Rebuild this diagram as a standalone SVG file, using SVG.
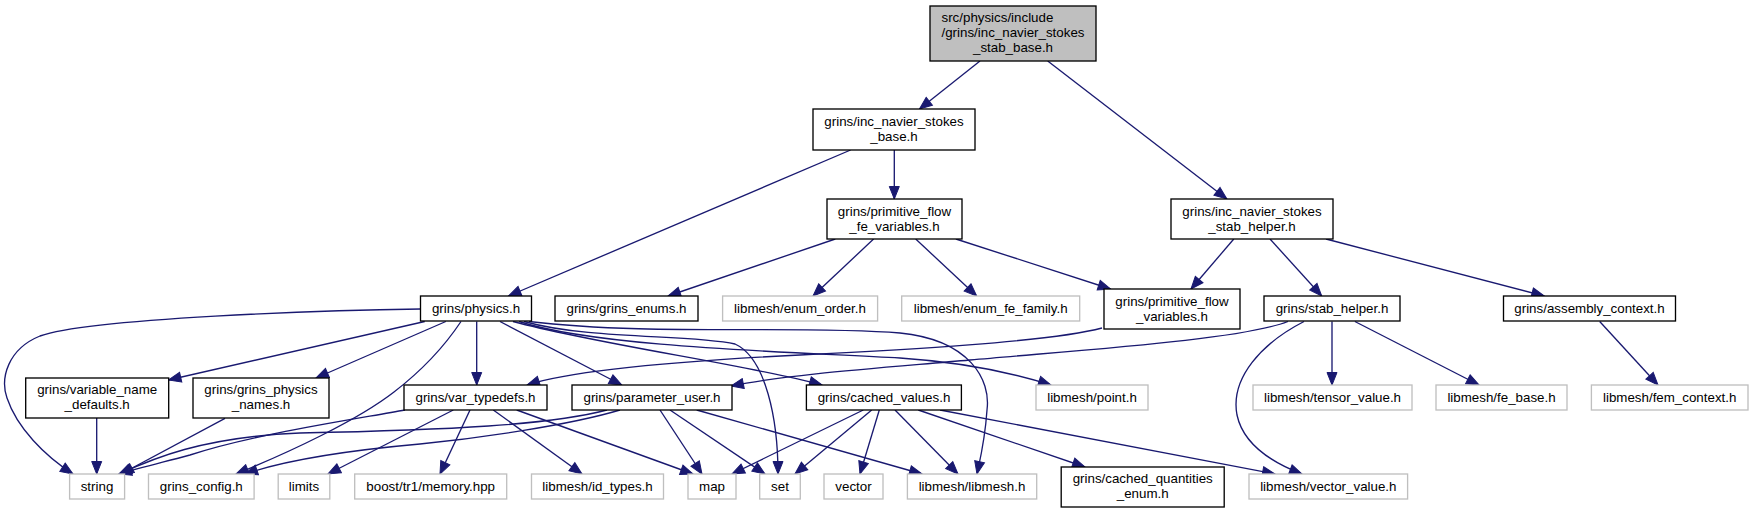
<svg xmlns="http://www.w3.org/2000/svg" width="1753" height="513" viewBox="0 0 1753 513">
<style>
text{font-family:"Liberation Sans",Arial,sans-serif;font-size:13.33px;fill:#000;text-anchor:middle}
text.l{text-anchor:start}
.n rect{fill:#fff;stroke:#000;stroke-width:1.33}
.x rect{fill:#fff;stroke:#bfbfbf;stroke-width:1.33}
.root rect{fill:#bfbfbf;stroke:#000;stroke-width:1.33}
#edges path{fill:none;stroke:#191970;stroke-width:1.33;marker-end:url(#arr)}
</style>
<defs>
<marker id="arr" markerUnits="userSpaceOnUse" markerWidth="15" markerHeight="12" refX="12.5" refY="5" orient="auto" viewBox="-1 -1 15 12">
<path d="M0,0 L12.5,5 L0,10 z" fill="#191970" stroke="#191970" stroke-width="1"/>
</marker>
</defs>
<rect width="1753" height="513" fill="#fff"/>
<g id="edges">
<path d="M980,61 L919.5,109"/>
<path d="M1047.7,61 L1226.9,199"/>
<path d="M850.6,150 L508.5,296"/>
<path d="M894.3,150 L894.3,199"/>
<path d="M835.3,239 L668,296"/>
<path d="M873.6,239 L813,296"/>
<path d="M915.7,239 L976.7,296"/>
<path d="M955.9,239 L1110.6,289"/>
<path d="M1233.8,239 L1191,289"/>
<path d="M1270,239 L1321.7,296"/>
<path d="M1326,239 L1544.2,296"/>
<path d="M1599.7,321.5 L1658,385"/>
<path d="M1332,321.5 L1332,385"/>
<path d="M1354.9,321.5 L1479,385"/>
<path d="M1304,321.5 C1262,343 1230,378 1237,415 C1243,443 1268,461 1302,474"/>
<path d="M1288,321.5 C1240,340 1080,350 970,360 C880,368 790,374 731,386"/>
<path d="M1102,328 C1050,342 900,350 800,355 C700,360 580,368 527,385"/>
<path d="M420.5,309 C330,310 90,318 40,336 C8,349 0,378 7,398 C17,428 45,456 73,474"/>
<path d="M424.7,321.5 L168.5,380"/>
<path d="M445.8,321.5 L316,378"/>
<path d="M461,321.5 C442,350 420,372 394,392 C358,420 290,452 236,474"/>
<path d="M476.7,321.5 L476.7,385"/>
<path d="M500,321.5 L621.7,385"/>
<path d="M513,321.5 C600,345 750,365 822,385"/>
<path d="M519,321.5 C600,348 800,352 900,358 C960,362 1010,372 1051,385"/>
<path d="M524,321.5 C590,340 690,334 735,344 C766,358 778,420 778,474"/>
<path d="M529,321.5 C650,336 800,325 900,333 C970,340 991,380 987,410 C985,440 980,460 977,474"/>
<path d="M96.7,418 L96.7,474"/>
<path d="M225,418.3 L121,474"/>
<path d="M405,410 C350,420 250,435 190,455 C160,463 140,468 119,474"/>
<path d="M607,410 C550,425 450,430 300,433 C200,437 150,460 119,474"/>
<path d="M620,410 C570,425 480,438 420,444 C330,452 280,462 245,474"/>
<path d="M453.3,410 L328,474"/>
<path d="M470,410 L440,474"/>
<path d="M493.3,410 L582,474"/>
<path d="M516.7,410 L693,474"/>
<path d="M660,410 L702,474"/>
<path d="M670,410 L765,474"/>
<path d="M696.7,410 L922,474"/>
<path d="M863.3,410 L732,474"/>
<path d="M871.7,410 L795,474"/>
<path d="M879.3,410 L860,474"/>
<path d="M895,410 L958,474"/>
<path d="M918.3,410 L1085,467"/>
<path d="M940,410 L1275,474"/>
</g>
<g id="n_root" class="root"><rect x="930" y="6" width="166" height="55"/><text class="l" x="941.5" y="22">src/physics/include</text><text class="l" x="941.5" y="37">/grins/inc_navier_stokes</text><text x="1013" y="52">_stab_base.h</text></g>
<g id="n_base" class="n"><rect x="813" y="109" width="162" height="41"/><text x="894" y="126">grins/inc_navier_stokes</text><text x="894" y="141">_base.h</text></g>
<g id="n_primfe" class="n"><rect x="827" y="199" width="135" height="40"/><text x="894.5" y="215.5">grins/primitive_flow</text><text x="894.5" y="230.5">_fe_variables.h</text></g>
<g id="n_stabinc" class="n"><rect x="1171" y="199" width="162" height="40"/><text x="1252" y="215.5">grins/inc_navier_stokes</text><text x="1252" y="230.5">_stab_helper.h</text></g>
<g id="n_physics" class="n"><rect x="420.5" y="296" width="111" height="25"/><text x="476" y="313">grins/physics.h</text></g>
<g id="n_enums" class="n"><rect x="555" y="296" width="143" height="25"/><text x="626.5" y="313">grins/grins_enums.h</text></g>
<g id="n_enumorder" class="x"><rect x="722.6" y="296" width="155" height="25"/><text x="800" y="313">libmesh/enum_order.h</text></g>
<g id="n_enumfe" class="x"><rect x="901.7" y="296" width="178" height="25"/><text x="990.7" y="313">libmesh/enum_fe_family.h</text></g>
<g id="n_primvars" class="n"><rect x="1104" y="289" width="136" height="40"/><text x="1172" y="305.5">grins/primitive_flow</text><text x="1172" y="320.5">_variables.h</text></g>
<g id="n_stabhelper" class="n"><rect x="1264" y="296" width="136" height="25"/><text x="1332" y="313">grins/stab_helper.h</text></g>
<g id="n_assembly" class="n"><rect x="1503.5" y="296" width="172" height="25"/><text x="1589.5" y="313">grins/assembly_context.h</text></g>
<g id="n_varname" class="n"><rect x="25.7" y="378" width="143" height="40"/><text x="97.2" y="394">grins/variable_name</text><text x="97.2" y="409">_defaults.h</text></g>
<g id="n_physnames" class="n"><rect x="193" y="378" width="136" height="40"/><text x="261" y="394">grins/grins_physics</text><text x="261" y="409">_names.h</text></g>
<g id="n_vartypedefs" class="n"><rect x="404" y="385" width="143" height="25"/><text x="475.5" y="402">grins/var_typedefs.h</text></g>
<g id="n_paramuser" class="n"><rect x="572" y="385" width="160" height="25"/><text x="652" y="402">grins/parameter_user.h</text></g>
<g id="n_cached" class="n"><rect x="806.4" y="385" width="155" height="25"/><text x="884" y="402">grins/cached_values.h</text></g>
<g id="n_point" class="x"><rect x="1036" y="385" width="112" height="25"/><text x="1092" y="402">libmesh/point.h</text></g>
<g id="n_tensor" class="x"><rect x="1253" y="385" width="159" height="25"/><text x="1332.5" y="402">libmesh/tensor_value.h</text></g>
<g id="n_febase" class="x"><rect x="1436" y="385" width="131" height="25"/><text x="1501.5" y="402">libmesh/fe_base.h</text></g>
<g id="n_femctx" class="x"><rect x="1591.4" y="385" width="156.6" height="25"/><text x="1669.7" y="402">libmesh/fem_context.h</text></g>
<g id="n_string" class="x"><rect x="69.6" y="474" width="55" height="25"/><text x="97" y="491">string</text></g>
<g id="n_config" class="x"><rect x="148.5" y="474" width="105.6" height="25"/><text x="201.3" y="491">grins_config.h</text></g>
<g id="n_limits" class="x"><rect x="278.2" y="474" width="51.6" height="25"/><text x="304" y="491">limits</text></g>
<g id="n_boost" class="x"><rect x="354.7" y="474" width="152" height="25"/><text x="430.7" y="491">boost/tr1/memory.hpp</text></g>
<g id="n_idtypes" class="x"><rect x="531.5" y="474" width="132" height="25"/><text x="597.5" y="491">libmesh/id_types.h</text></g>
<g id="n_map" class="x"><rect x="688" y="474" width="48" height="25"/><text x="712" y="491">map</text></g>
<g id="n_set" class="x"><rect x="759.7" y="474" width="40.6" height="25"/><text x="780" y="491">set</text></g>
<g id="n_vector" class="x"><rect x="824" y="474" width="59" height="25"/><text x="853.5" y="491">vector</text></g>
<g id="n_libmesh" class="x"><rect x="907.4" y="474" width="129.3" height="25"/><text x="972" y="491">libmesh/libmesh.h</text></g>
<g id="n_cqenum" class="n"><rect x="1061.2" y="467" width="163" height="40"/><text x="1142.7" y="483">grins/cached_quantities</text><text x="1142.7" y="498">_enum.h</text></g>
<g id="n_vecvalue" class="x"><rect x="1249" y="474" width="158.6" height="25"/><text x="1328.3" y="491">libmesh/vector_value.h</text></g>
</svg>
